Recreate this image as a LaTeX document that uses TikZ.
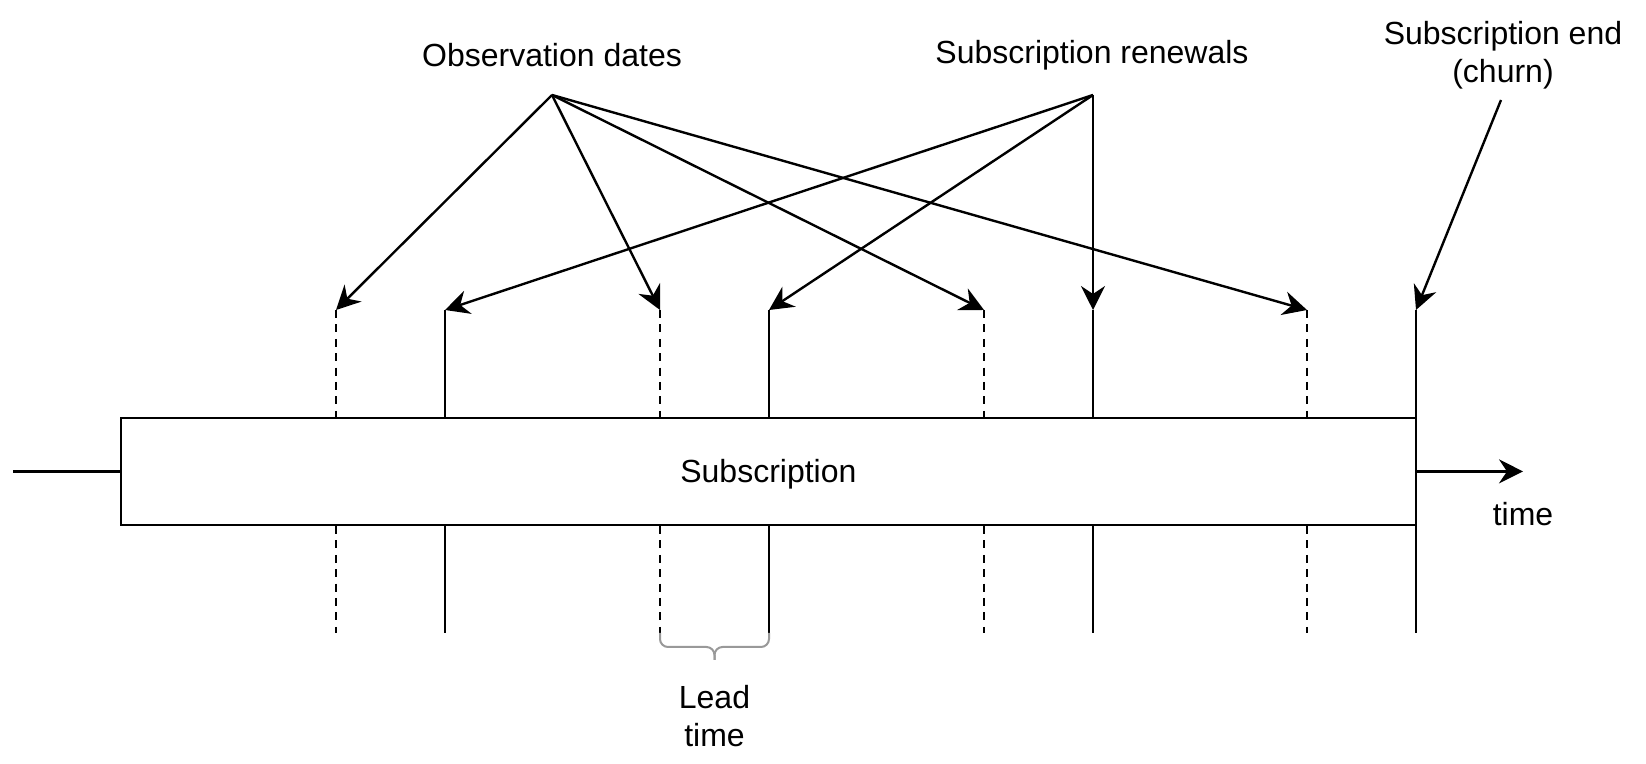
\documentclass[tikz,border=0pt]{standalone}
\usepackage{fontspec}
\setmainfont{Liberation Sans}
\usetikzlibrary{arrows.meta}
\definecolor{ink}{HTML}{000000}
\definecolor{bracegray}{HTML}{999999}
\tikzset{
  >={Stealth[length=12pt,width=12pt,inset=4pt]},
  every picture/.style={line width=1.2pt,font=\fontsize{16}{19}\selectfont},
  sbox/.style={draw=ink,fill=white,minimum width=647.6pt,minimum height=53.5pt,inner sep=0pt,text depth=0pt},
  lab/.style={align=center,text=ink,inner sep=0pt},
  arr/.style={->,draw=ink},
  tick/.style={draw=ink},
  obstick/.style={draw=ink,dash pattern=on 4pt off 3.2pt},
  brc/.style={draw=bracegray,line width=1pt,rounded corners=4pt},
}

\begin{document}
\begin{tikzpicture}[x=0.5pt,y=-0.5pt]
  \useasboundingbox (0,0) rectangle (1646,764);
  % labels on top
  \node[lab] (obs) at (552,55) {Observation dates};
  \node[lab] (ren) at (1092,55) {Subscription renewals};
  \node[lab] (churn) at (1503,55) {Subscription end\\(churn)};
  \coordinate (obsp) at (552,95);
  \coordinate (renp) at (1093,95);
  \coordinate (churnp) at (1501,100);
  % observation dates (dashed)
  \coordinate (o1) at (336,310); \coordinate (o1b) at (336,633);
  \coordinate (o2) at (660,310); \coordinate (o2b) at (660,633);
  \coordinate (o3) at (984,310); \coordinate (o3b) at (984,633);
  \coordinate (o4) at (1307,310); \coordinate (o4b) at (1307,633);
  \draw[obstick] (o1) -- (o1b); \draw[obstick] (o2) -- (o2b);
  \draw[obstick] (o3) -- (o3b); \draw[obstick] (o4) -- (o4b);
  % renewals and end (solid)
  \coordinate (r1) at (445,310); \coordinate (r1b) at (445,633);
  \coordinate (r2) at (769,310); \coordinate (r2b) at (769,633);
  \coordinate (r3) at (1093,310); \coordinate (r3b) at (1093,633);
  \coordinate (e1) at (1416,310); \coordinate (e1b) at (1416,633);
  \draw[tick] (r1) -- (r1b); \draw[tick] (r2) -- (r2b);
  \draw[tick] (r3) -- (r3b); \draw[tick] (e1) -- (e1b);
  % subscription bar and time axis
  \coordinate (start) at (13,471.4);
  \coordinate (tend) at (1523,471.4);
  \node[sbox] (sub) at (768.4,471.4) {Subscription};
  \draw[tick] (start) -- (sub.west);
  \draw[arr] (sub.east) -- (tend);
  \node[lab] (time) at (1523,514) {time};
  % arrows
  \draw[arr] (obsp) -- (o1); \draw[arr] (obsp) -- (o2);
  \draw[arr] (obsp) -- (o3); \draw[arr] (obsp) -- (o4);
  \draw[arr] (renp) -- (r1); \draw[arr] (renp) -- (r2);
  \draw[arr] (renp) -- (r3);
  \draw[arr] (churnp) -- (e1);
  % lead time brace
  \draw[brc] (o2b) -- (660,647) -- (714.5,647) -- (714.5,660);
  \draw[brc] (714.5,660) -- (714.5,647) -- (769,647) -- (r2b);
  \node[lab] (lead) at (714.5,716) {Lead\\time};
\end{tikzpicture}
\end{document}
